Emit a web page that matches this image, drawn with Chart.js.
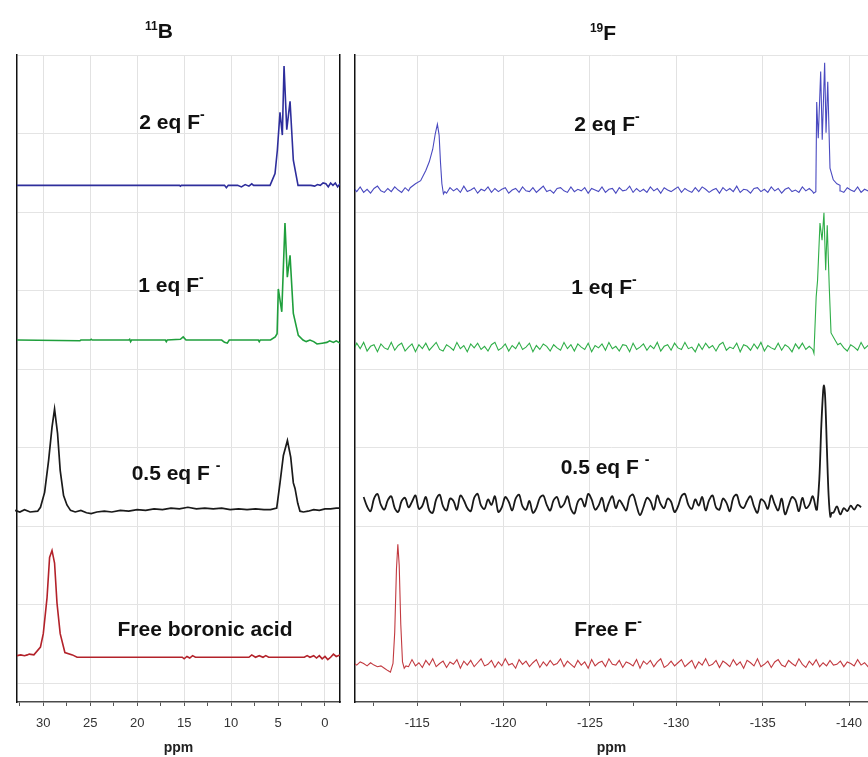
<!DOCTYPE html>
<html>
<head>
<meta charset="utf-8">
<script src="https://cdn.jsdelivr.net/npm/chart.js@4.4.0/dist/chart.umd.min.js"></script>
<style>
  body { margin: 0; background: #fff; }
  #page { position: relative; width: 868px; height: 757px; overflow: hidden; font-family: "Liberation Sans", Arial, sans-serif; }
  canvas { position: absolute; top: 0; }
  #boronChart { left: 0; }
  #fluorChart { left: 345px; }
  .lbl { position: absolute; transform: translate(-50%, -50%); font-weight: bold; font-size: 21px; color: #111; white-space: nowrap; line-height: 1; }
  .lbl sup { font-size: 14px; vertical-align: 10px; line-height: 0; }
  .ttl { position: absolute; transform: translate(-50%, -50%); font-weight: bold; font-size: 21px; color: #111; white-space: nowrap; line-height: 1; }
  .ttl sup { font-size: 12px; vertical-align: 8px; line-height: 0; }
</style>
</head>
<body>
<div id="page">
  <canvas id="boronChart" width="350" height="757"></canvas>
  <canvas id="fluorChart" width="523" height="757"></canvas>

  <div class="ttl" style="left:159px; top:30px;"><sup>11</sup>B</div>
  <div class="ttl" style="left:603px; top:32px;"><sup>19</sup>F</div>

  <div class="lbl" style="left:172px; top:121px;">2 eq F<sup>-</sup></div>
  <div class="lbl" style="left:171px; top:284px;">1 eq F<sup>-</sup></div>
  <div class="lbl" style="left:176px; top:472px;">0.5 eq F <sup>-</sup></div>
  <div class="lbl" style="left:205px; top:628px;">Free boronic acid</div>

  <div class="lbl" style="left:607px; top:123px;">2 eq F<sup>-</sup></div>
  <div class="lbl" style="left:604px; top:286px;">1 eq F<sup>-</sup></div>
  <div class="lbl" style="left:605px; top:466px;">0.5 eq F <sup>-</sup></div>
  <div class="lbl" style="left:608px; top:628px;">Free F<sup>-</sup></div>
</div>

<script>
// ---- 11B spectra: [ppm, intensity above the trace's own baseline] (grid units)
const boron2eq = [
  [-1.6, 0.02], [-1.35, -0.02], [-1.1, 0.03], [-0.85, 0.0], [-0.6, 0.03], [-0.35, -0.02], [-0.1, 0.02],
  [0.2, 0.03], [0.5, 0.0], [0.8, 0.01], [1.1, -0.01], [1.5, 0.0], [2.87, 0.0], [3.37, 0.32], [3.72, 1.07],
  [4.07, 0.71], [4.36, 1.52], [4.54, 0.64], [4.79, 0.93], [5.07, 0.45], [5.32, 0.15], [5.85, 0.0],
  [7.6, 0.0], [7.8, 0.02], [8.1, -0.01], [8.5, 0.01], [8.9, -0.02], [9.3, 0.0], [10.3, 0.0], [10.5, -0.03],
  [10.7, 0.0], [15.3, 0.0], [15.4, -0.01], [15.5, 0.0], [32.8, 0.0]
];
const boron1eq = [
  [-1.6, -0.04], [-1.2, -0.01], [-0.9, -0.03], [-0.5, -0.01], [-0.2, -0.03], [0.3, -0.04], [0.85, -0.05],
  [1.2, -0.02], [1.6, 0.0], [2.0, -0.02], [2.34, 0.0], [2.84, 0.06], [3.37, 0.34], [3.72, 1.08], [4.01, 0.80],
  [4.26, 1.49], [4.6, 0.36], [4.97, 0.65], [5.1, 0.08], [5.3, 0.04], [5.8, 0.0], [6.9, 0.0], [7.0, -0.02],
  [7.1, 0.0], [10.2, 0.0], [10.4, -0.04], [10.7, -0.03], [11.0, 0.0], [14.8, 0.0], [15.1, 0.04], [15.4, 0.01],
  [16.8, 0.0], [16.9, -0.02], [17.0, 0.0], [20.6, 0.0], [20.7, -0.02], [20.8, 0.01], [20.9, 0.0],
  [24.8, 0.0], [24.9, 0.01], [25.0, 0.0], [26.0, 0.0], [26.1, -0.01], [32.8, 0.0]
];
const boronHalfEq = [
  [-1.6, 0.04], [-1.2, 0.04], [-0.6, 0.03], [0.0, 0.03], [0.6, 0.01], [1.2, 0.02], [1.8, 0.0], [2.3, -0.01],
  [2.66, 0.0], [2.9, 0.1], [3.19, 0.29], [3.37, 0.36], [3.65, 0.69], [4.0, 0.90], [4.43, 0.71], [4.79, 0.36],
  [5.14, 0.04], [5.8, 0.02], [6.5, 0.02], [7.4, 0.03], [8.3, 0.02], [9.2, 0.03], [10.1, 0.02], [11.0, 0.04],
  [11.9, 0.03], [12.8, 0.04], [13.7, 0.03], [14.6, 0.05], [15.5, 0.03], [16.4, 0.04], [17.3, 0.02],
  [18.2, 0.03], [19.1, 0.01], [20.0, 0.02], [20.9, 0.0], [21.8, 0.01], [22.7, -0.01], [23.5, 0.0],
  [24.3, -0.01], [24.9, -0.03], [25.4, -0.02], [26.0, 0.01], [26.6, -0.01], [27.1, 0.01], [27.48, 0.08],
  [27.84, 0.2], [28.2, 0.52], [28.48, 0.99], [28.8, 1.30], [29.07, 1.07], [29.43, 0.65], [29.86, 0.24],
  [30.3, 0.05], [30.6, 0.0], [31.4, -0.01], [32.0, 0.02], [32.5, -0.01], [33.0, 0.01], [33.6, 0.0]
];
const boronFree = [
  [-1.6, 0.03], [-1.2, 0.01], [-0.9, 0.04], [-0.6, 0.0], [-0.3, -0.03], [0.0, 0.01], [0.3, -0.02],
  [0.6, 0.02], [0.9, -0.01], [1.2, 0.02], [1.6, 0.0], [1.9, 0.02], [2.2, 0.0], [6.0, 0.0], [6.3, 0.02],
  [6.6, 0.0], [7.0, 0.02], [7.4, 0.0], [7.8, 0.03], [8.1, 0.0], [13.8, 0.0], [14.1, 0.02], [14.4, -0.01],
  [14.7, 0.01], [15.0, -0.02], [15.2, 0.0], [26.4, 0.0], [26.9, 0.03], [27.7, 0.06], [28.2, 0.3],
  [28.54, 0.69], [28.8, 1.2], [29.07, 1.36], [29.33, 1.27], [29.6, 0.76], [30.0, 0.3], [30.3, 0.13],
  [31.0, 0.03], [31.5, 0.04], [31.7, 0.03], [32.0, 0.02], [32.4, 0.03], [32.8, 0.02]
];
const boronBaselines = [6.34, 4.37, 2.19, 0.33];

// ---- 19F spectra: peak points [ppm, intensity] + baseline noise (hundredths of a grid unit)
const fluor2eqPeaks = [
  [-114.6, 0.03], [-114.9, 0.08], [-115.2, 0.12], [-115.5, 0.25], [-115.7, 0.36], [-115.9, 0.52],
  [-116.05, 0.72], [-116.17, 0.84], [-116.27, 0.7], [-116.35, 0.35], [-116.43, 0.08], [-116.52, -0.05], [-116.6, -0.02]
];
const fluor2eqMultiplet = [
  [-137.95, -0.04], [-138.08, -0.02], [-138.13, 1.12], [-138.22, 0.66], [-138.36, 1.51], [-138.45, 0.64],
  [-138.59, 1.62], [-138.67, 0.73], [-138.77, 1.38], [-138.9, 0.28], [-139.09, 0.13], [-139.3, 0.08], [-139.48, 0.06]
];
const fluor2eqNoise = [
  3,-2,4,-3,1,-4,2,5,-1,-3,2,-2,4,0,-3,3,-1,-4,2,1,
  -2,3,-3,0,4,-2,1,-4,3,-1,2,-3,5,-2,0,3,-4,1,-1,4,
  -3,2,-2,1,3,-4,0,2,-3,4,-1,-2,3,-3,1,5,-2,0,-4,2,
  3,-1,-3,4,-2,1,-1,3,-4,2,0,-2,4,-3,1,2,-4,3,-1,0,
  5,-3,2,-2,1,-3,4,-1,2,-4,3,0,-2,1,4,-3,2,-1,-3,3,
  -2,4,1,-3,0,2,-4,3,-1,2,-2,5,-3,1,0,-4,2,3,-2,1,
  -3,4,-1,2,-4,1,3,-2,0,-3,4,-1,2,-2,3,-4,1,0,2,-3,
  2,-1,-3,3,0,-2,4,-3,1,-1,2,-2
];
const fluor1eqMultiplet = [
  [-137.9, -0.03], [-137.97, -0.08], [-138.1, 0.64], [-138.18, 0.85], [-138.32, 1.58], [-138.44, 1.36],
  [-138.55, 1.71], [-138.65, 0.98], [-138.74, 1.55], [-138.86, 0.75], [-138.96, 0.18], [-139.19, 0.09], [-139.35, 0.03]
];
const fluor1eqNoise = [
  -4,5,-2,6,-5,1,3,-6,4,-1,-3,6,-4,2,5,-5,0,4,-6,3,
  -2,5,-4,1,6,-3,-5,3,0,-4,6,-2,2,-6,4,-1,5,-3,1,-5,
  3,6,-4,-1,4,-5,2,-2,6,-3,0,5,-6,2,-3,4,1,-5,3,-1,
  -4,6,-2,3,-5,4,0,-3,5,-6,2,-1,4,-4,6,-2,1,-5,3,2,
  -6,5,-3,0,4,-4,2,-2,6,-5,1,3,-4,5,-1,-3,6,-2,0,-6,
  4,-3,5,-1,2,-5,3,6,-4,0,-2,5,-6,3,1,-4,4,-2,6,-5,
  2,-1,-3,5,-4,3,0,-6,4,-2,5,-3,1,-5,6,-1,-4,3,-2,4,
  -3,5,-1,-5,3,0,-4,6,-2,2,-3,4
];
const fluorHalfEqPeak = [
  [-138.15, -0.08], [-138.28, 0.3], [-138.4, 1.0], [-138.5, 1.42], [-138.55, 1.5], [-138.62, 1.35],
  [-138.72, 0.7], [-138.82, 0.1], [-138.92, -0.17], [-139.0, -0.12]
];
const fluorHalfEqNoise = [
  8,-4,-10,6,12,-2,-8,4,9,-6,-11,3,7,-5,2,10,-7,-3,8,-9,
  -12,5,11,-4,-9,6,3,-8,10,4,-6,-10,7,12,-3,-7,5,-2,9,-11,
  -5,8,2,-9,6,11,-4,-8,3,-12,-6,7,10,-2,-9,4,8,-5,-1,9,
  -7,-13,2,6,-4,12,5,-8,-3,7,-10,1,9,-6,4,-2,-9,8,11,-3,
  -15,-5,7,3,-8,10,-1,-6,6,2,-11,-4,9,12,-2,-7,5,-3,8,-9,
  4,10,-5,-8,6,1,-10,7,11,-3,-6,3,9,-4,-12,5,2,-7,10,-1,
  -9,6,-14,-3,8,4,-10,7,-6,-2,9,-8,-12,3,-16,-4,-12,-4,-14,-6,
  -10,-3,-8,-2,-5
];
const fluorFreePeak = [
  [-113.45, -0.11], [-113.6, 0.0], [-113.7, 0.4], [-113.8, 1.2], [-113.88, 1.52], [-113.96, 1.25],
  [-114.05, 0.5], [-114.15, 0.02], [-114.25, -0.06], [-114.35, -0.03]
];
const fluorFreeNoise = [
  1,-2,2,0,-3,1,-2,-4,-3,-6,-9,-11,-5,-3,-6,2,-4,5,-3,1,
  -5,4,-2,6,-4,0,3,-5,2,-1,5,-6,3,-2,4,-4,1,6,-3,-1,
  4,-5,2,-3,6,-2,0,-6,5,-1,3,-4,1,5,-5,2,-3,4,-2,0,
  6,-4,3,-1,-5,4,-2,2,-6,5,-3,1,3,-4,6,-1,-2,4,-5,2,
  0,-3,5,-6,3,-1,4,-4,2,6,-5,-2,3,-3,1,5,-4,0,4,-6,
  2,-2,6,-3,-1,4,-5,3,0,-4,5,-2,2,-6,4,1,-3,6,-4,-1,
  3,-5,2,5,-2,-4,4,0,-3,6,-1,-5,3,-2,5,-4,1,-3,4,-2,
  -1,3,-4,2,0,-3,5,-2,1,-4,3,-1
];
const fluorNoiseStart = [-111.3, -111.3, -111.9, -111.3];
const fluorNoiseStep = -0.2;
const fluorBaselines = [6.28, 4.28, 2.29, 0.25];

const boronTickLabels = [30, 25, 20, 15, 10, 5, 0];
const fluorTickLabels = [-115, -120, -125, -130, -135, -140];
const traceColors = ['#2e2e9c', '#1f9f3c', '#1a1a1a', '#b3222a'];
const fluorColors = ['#4a4ac0', '#2fae48', '#1a1a1a', '#c23a40'];

function shifted(points, base) {
  return points.map(p => ({ x: p[0], y: p[1] + base })).sort((a, b) => a.x - b.x);
}

function noisyTrace(peakSets, noise, start, base) {
  const ranges = peakSets.map(s => {
    const xs = s.map(p => p[0]);
    return [Math.min(...xs), Math.max(...xs)];
  });
  const pts = [];
  noise.forEach((v, i) => {
    const ppm = start + i * fluorNoiseStep;
    if (!ranges.some(r => ppm >= r[0] && ppm <= r[1])) pts.push([ppm, v / 100]);
  });
  peakSets.forEach(s => s.forEach(p => pts.push(p)));
  return shifted(pts, base);
}

function line(data, color, width, clip, tension) {
  return { data: data, borderColor: color, borderWidth: width, pointRadius: 0, tension: tension || 0, fill: false, clip: clip };
}

function spectrumChart(id, datasets, xMin, xMax, tickLabels, pad, rightBorder) {
  const font = { family: '"Liberation Sans", Arial, sans-serif' };
  const scales = {
    x: {
      type: 'linear', reverse: true, min: xMin, max: xMax,
      border: { display: true, color: '#4a4a4a', width: 1.5 },
      grid: {
        color: ctx => (ctx.tick && Math.abs(ctx.tick.value % 5) < 1e-6) ? '#e2e2e2' : 'rgba(0,0,0,0)',
        tickColor: '#555', tickLength: 4, lineWidth: 1
      },
      ticks: {
        stepSize: 2.5, maxTicksLimit: 100, includeBounds: false, autoSkip: false, maxRotation: 0,
        padding: 10, color: '#333', font: Object.assign({ size: 13 }, font),
        callback: v => tickLabels.includes(v) ? String(v) : ''
      },
      title: { display: true, text: 'ppm', color: '#222', font: Object.assign({ size: 14, weight: 'bold' }, font), padding: { top: 2, bottom: 0 } },
      afterFit: s => { s.height = 55; s.paddingLeft = 0; s.paddingRight = 0; }
    },
    y: {
      min: -0.24, max: 8,
      border: { display: true, color: '#111', width: 1.5 },
      grid: { color: '#e4e4e4', drawTicks: false },
      ticks: { display: false, stepSize: 1, includeBounds: false }
    }
  };
  if (rightBorder) {
    scales.yRight = {
      position: 'right', min: -0.24, max: 8,
      border: { display: true, color: '#111', width: 1.5 },
      grid: { drawOnChartArea: false, drawTicks: false },
      ticks: { display: false }
    };
  }
  return new Chart(document.getElementById(id), {
    type: 'line',
    data: { datasets: datasets },
    options: {
      responsive: false, animation: false,
      layout: { padding: pad },
      plugins: { legend: { display: false }, tooltip: { enabled: false } },
      scales: scales
    }
  });
}

const noClip = { left: false, top: 0, right: 0, bottom: 0 };

spectrumChart('boronChart', [
  line(shifted(boron2eq, boronBaselines[0]), traceColors[0], 1.6, 0),
  line(shifted(boron1eq, boronBaselines[1]), traceColors[1], 1.6, 0),
  line(shifted(boronHalfEq, boronBaselines[2]), traceColors[2], 1.7, noClip),
  line(shifted(boronFree, boronBaselines[3]), traceColors[3], 1.6, 0)
], -1.6, 32.8, boronTickLabels, { left: 17, right: 10, top: 55, bottom: 0 }, true);

spectrumChart('fluorChart', [
  line(noisyTrace([fluor2eqPeaks, fluor2eqMultiplet], fluor2eqNoise, fluorNoiseStart[0], fluorBaselines[0]), fluorColors[0], 1.1, 0),
  line(noisyTrace([fluor1eqMultiplet], fluor1eqNoise, fluorNoiseStart[1], fluorBaselines[1]), fluorColors[1], 1.1, 0),
  line(noisyTrace([fluorHalfEqPeak], fluorHalfEqNoise, fluorNoiseStart[2], fluorBaselines[2]), fluorColors[2], 1.8, 0, 0.35),
  line(noisyTrace([fluorFreePeak], fluorFreeNoise, fluorNoiseStart[3], fluorBaselines[3]), fluorColors[3], 1.1, 0)
], -141.1, -111.4, fluorTickLabels, { left: 10, right: 0, top: 55, bottom: 0 }, false);
</script>
</body>
</html>
